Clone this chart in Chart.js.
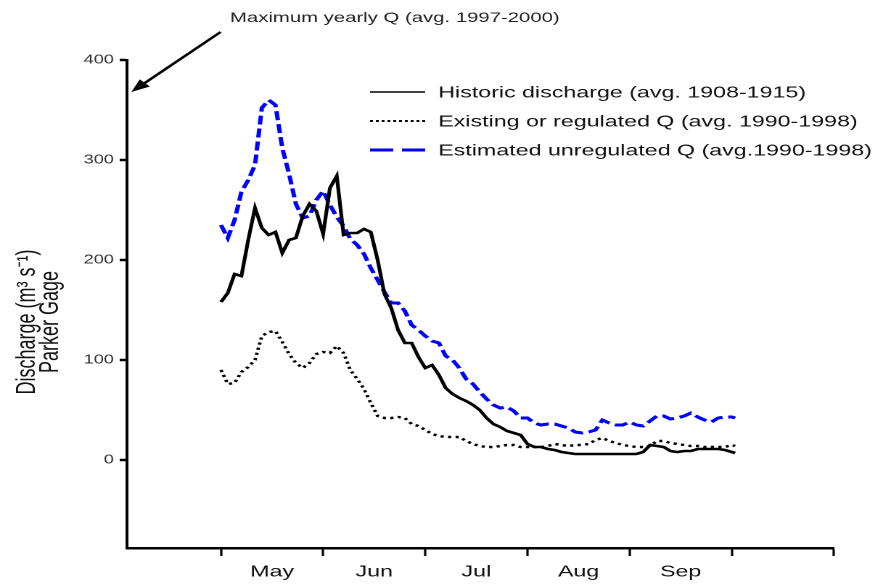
<!DOCTYPE html>
<html>
  <head>
    <title>Parker Gage discharge</title>
    <script src="https://cdn.jsdelivr.net/npm/chart.js"></script>
    <style>
      body { margin: 0; background: #fff; overflow: hidden; }
      /* the original figure is stretched sideways, so the whole chart is too */
      #wrap { width: 603px; height: 584px; transform: scaleX(1.4511); transform-origin: 0 0; }
    </style>
  </head>
  <body>
    <div id="wrap"><canvas id="dischargeChart" width="603" height="584"></canvas></div>
    <script>
      // day 0 = May 1
      var days = [0, 2, 4, 6, 8, 10, 12, 14, 16, 18, 20, 22, 24, 26, 28, 30, 32, 34, 36, 38,
        40, 42, 44, 46, 48, 50, 52, 54, 56, 58, 60, 62, 64, 66, 68, 70, 72, 74, 76, 78,
        80, 82, 84, 86, 88, 90, 92, 94, 96, 98, 100, 102, 104, 106, 108, 110, 112, 114, 116, 118,
        120, 122, 124, 126, 128, 130, 132, 134, 136, 138, 140, 142, 144, 146, 148, 150, 151];

      var historic = [158, 167, 186, 184, 220, 252, 232, 225, 228, 207, 220, 222, 244, 256, 249, 226, 272, 284, 225, 227,
        227, 231, 228, 200, 166, 152, 130, 117, 117, 103, 92, 95, 85, 72, 66, 62, 59, 55, 50, 42,
        36, 33, 29, 27, 25, 16, 13, 13, 11, 10, 8, 7, 6, 6, 6, 6, 6, 6, 6, 6,
        6, 6, 8, 15, 14, 13, 9, 8, 9, 9, 11, 11, 11, 11, 10, 8, 7];

      var regulated = [90, 76, 77, 88, 93, 100, 124, 128, 129, 118, 106, 97, 92, 97, 106, 108, 107, 114, 107, 90,
        81, 71, 57, 44, 42, 42, 43, 42, 36, 34, 30, 26, 24, 23, 23, 23, 19, 16, 14, 13,
        13, 14, 15, 15, 13, 13, 13, 13, 14, 16, 15, 14, 15, 15, 16, 20, 22, 19, 17, 15,
        14, 13, 13, 14, 19, 19, 17, 16, 15, 14, 14, 13, 13, 13, 13, 15, 14];

      var unregulated = [235, 222, 240, 268, 280, 295, 352, 360, 355, 312, 286, 256, 242, 244, 260, 269, 255, 243, 234, 221,
        215, 206, 192, 180, 168, 157, 157, 149, 135, 130, 124, 119, 117, 104, 100, 92, 81, 76, 68, 61,
        55, 52, 53, 49, 42, 42, 37, 35, 36, 36, 34, 32, 28, 27, 28, 30, 40, 37, 35, 35,
        38, 35, 34, 39, 44, 44, 41, 42, 44, 47, 43, 40, 38, 42, 43, 43, 42];

      var seriesLabels = ["Historic discharge (avg. 1908-1915)",
        "Existing or regulated Q (avg. 1990-1998)",
        "Estimated unregulated Q (avg.1990-1998)"];
      var months = ["May", "Jun", "Jul", "Aug", "Sep"];
      var xTicks = [0, 30, 60, 90, 120, 150, 180];
      var yTicks = [0, 100, 200, 300, 400];
      var yTitle = ["Discharge (m\u00b3 s\u207b\u00b9)", "Parker Gage"];
      var maxNote = "Maximum yearly Q (avg. 1997-2000)";
      var maxYearlyQ = 368;

      var FONT = "'Liberation Sans', Arial, sans-serif";

      function pts(vals) {
        return vals.map(function (v, i) { return { x: days[i], y: v }; });
      }

      var overlay = {
        id: "overlay",
        afterDraw: function (chart) {
          var ctx = chart.ctx;
          var xs = chart.scales.x, ys = chart.scales.y;
          ctx.save();
          ctx.fillStyle = "#111";

          // month names sit between the ticks
          ctx.font = "16px " + FONT;
          ctx.textAlign = "center";
          ctx.textBaseline = "middle";
          months.forEach(function (m, i) {
            ctx.fillText(m, xs.getPixelForValue(xTicks[i] + 15), 572);
          });

          // y title, two lines
          ctx.save();
          ctx.font = "18px " + FONT;
          ctx.translate(19, 322);
          ctx.rotate(-Math.PI / 2);
          ctx.fillText(yTitle[0], 0, 0);
          ctx.fillText(yTitle[1], 0, 16);
          ctx.restore();

          // note + arrow
          ctx.font = "14px " + FONT;
          ctx.fillStyle = "#222";
          ctx.textAlign = "left";
          ctx.fillText(maxNote, 158.5, 18);
          var tx = xs.left + 3, ty = ys.getPixelForValue(maxYearlyQ);
          var sx = 152, sy = 32;
          var ang = Math.atan2(ty - sy, tx - sx);
          ctx.strokeStyle = "#000";
          ctx.fillStyle = "#000";
          ctx.lineWidth = 2.2;
          ctx.beginPath();
          ctx.moveTo(sx, sy);
          ctx.lineTo(tx - 8 * Math.cos(ang), ty - 8 * Math.sin(ang));
          ctx.stroke();
          ctx.beginPath();
          ctx.moveTo(tx, ty);
          ctx.lineTo(tx - 13 * Math.cos(ang) + 5 * Math.sin(ang), ty - 13 * Math.sin(ang) - 5 * Math.cos(ang));
          ctx.lineTo(tx - 13 * Math.cos(ang) - 5 * Math.sin(ang), ty - 13 * Math.sin(ang) + 5 * Math.cos(ang));
          ctx.closePath();
          ctx.fill();

          // legend
          var rows = [92, 121, 150];
          var dashes = [[], [2, 2], [16, 6]];
          var widths = [1.6, 2, 3];
          ctx.font = "16px " + FONT;
          ctx.textAlign = "left";
          chart.data.datasets.forEach(function (ds, i) {
            ctx.strokeStyle = ds.borderColor;
            ctx.lineWidth = widths[i];
            ctx.setLineDash(dashes[i]);
            ctx.beginPath();
            ctx.moveTo(255, rows[i]);
            ctx.lineTo(293, rows[i]);
            ctx.stroke();
            ctx.setLineDash([]);
            ctx.fillStyle = "#111";
            ctx.fillText(ds.label, 302, rows[i] + 1);
          });
          ctx.restore();
        }
      };

      var ctx = document.getElementById("dischargeChart").getContext("2d");
      var dischargeChart = new Chart(ctx, {
        type: "line",
        data: {
          datasets: [
            {
              label: seriesLabels[0],
              data: pts(historic),
              borderColor: "#000",
              borderWidth: 2.6,
              pointRadius: 0,
              tension: 0,
            },
            {
              label: seriesLabels[1],
              data: pts(regulated),
              borderColor: "#000",
              borderWidth: 2.4,
              borderDash: [2.2, 3],
              pointRadius: 0,
              tension: 0,
            },
            {
              label: seriesLabels[2],
              data: pts(unregulated),
              borderColor: "#0000ff",
              borderWidth: 3,
              borderDash: [9, 4],
              pointRadius: 0,
              tension: 0,
            },
          ],
        },
        options: {
          responsive: false,
          devicePixelRatio: 2,
          animation: false,
          layout: { padding: { top: 60, right: 28.3, left: 0, bottom: 0 } },
          plugins: { legend: { display: false }, tooltip: { enabled: false } },
          scales: {
            x: {
              type: "linear",
              min: -27.6,
              max: 180,
              afterBuildTicks: function (s) {
                s.ticks = xTicks.map(function (v) { return { value: v }; });
              },
              afterFit: function (s) { s.height = 36; },
              ticks: { display: false },
              grid: { drawOnChartArea: false, tickLength: 8, tickWidth: 1.6, tickColor: "#000" },
              border: { color: "#000", width: 2.5 },
            },
            y: {
              min: -88,
              max: 400,
              afterBuildTicks: function (s) {
                s.ticks = yTicks.map(function (v) { return { value: v }; });
              },
              afterFit: function (s) { s.width = 87.5; },
              ticks: { font: { size: 12.5, family: FONT }, color: "#333", padding: 4 },
              grid: { drawOnChartArea: false, tickLength: 5, tickWidth: 2.5, tickColor: "#000" },
              border: { color: "#000", width: 2 },
            },
          },
        },
        plugins: [overlay],
      });
    </script>
  </body>
</html>
